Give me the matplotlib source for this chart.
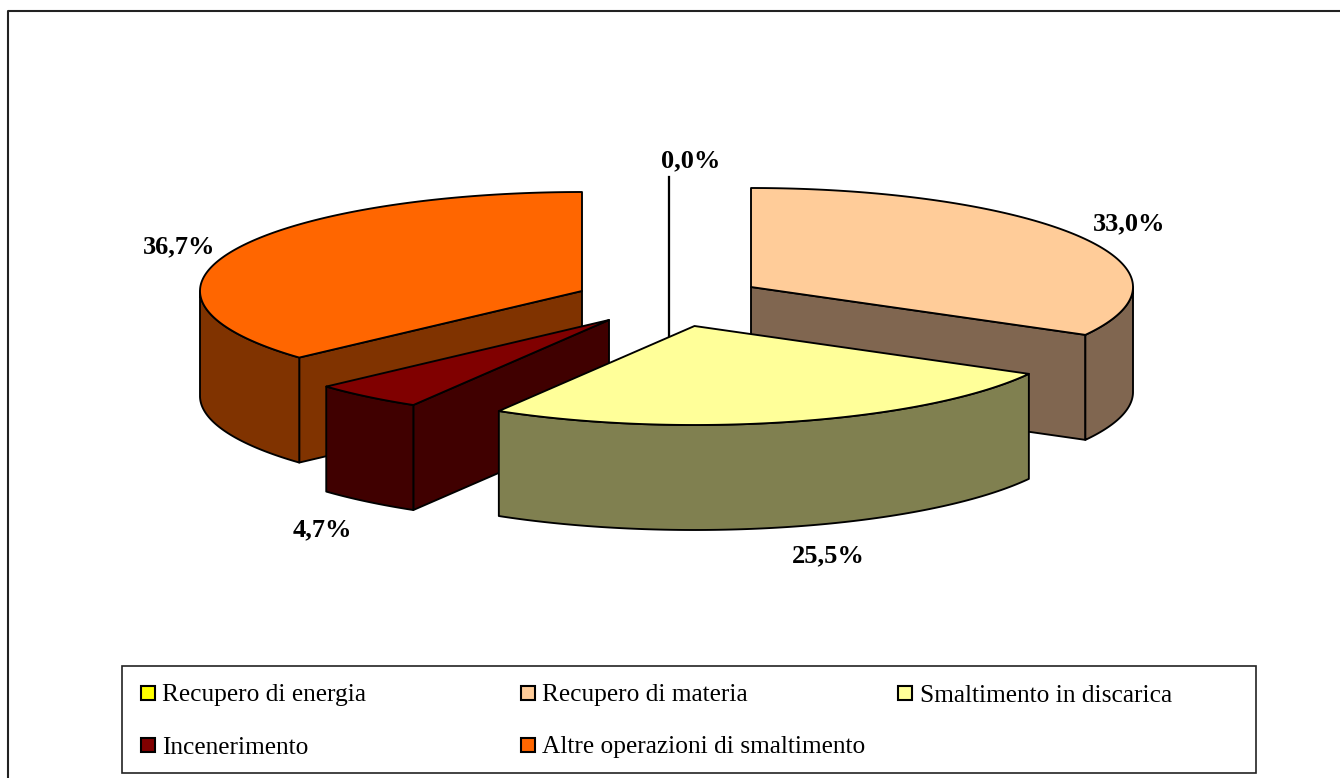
import numpy as np
import matplotlib
matplotlib.use("Agg")
import matplotlib.pyplot as plt
from matplotlib.patches import Polygon, Rectangle

# Data
categories = ["Recupero di energia", "Recupero di materia", "Smaltimento in discarica",
              "Incenerimento", "Altre operazioni di smaltimento"]
values = [0.0, 33.0, 25.5, 4.7, 36.7]
value_labels = ["0,0%", "33,0%", "25,5%", "4,7%", "36,7%"]

# Style / layout
top_colors = ["#FFFF00", "#FFCC99", "#FFFF99", "#800000", "#FF6600"]
side_colors = ["#808000", "#806650", "#808050", "#400000", "#803300"]
apexes = [(669, 276), (751, 287), (694.5, 326), (609, 320), (582, 291)]
label_pos = [(690.5, 160.5), (1129, 223.5), (828, 555.5), (322, 529.5), (179, 246.5)]
draw_order = [1, 4, 3, 0, 2]
RX, RY, DEPTH = 382, 99, 105
EDGE = "black"
LW = 1.35
SERIF = "Liberation Serif"

fig = plt.figure(figsize=(13.4, 7.78), dpi=100)
ax = fig.add_axes([0, 0, 1, 1])
ax.set_xlim(0, 1340)
ax.set_ylim(778, 0)
ax.axis("off")

# chart frame: only left and top edges fall inside the picture
ax.plot([7.5, 7.5, 1340], [778, 11, 11], color="#222222", lw=1.5, zorder=1)


def rim(apex, t):
    t = np.asarray(t)
    return apex[0] + RX * np.sin(t), apex[1] - RY * np.cos(t)


total = sum(values)
ends = np.cumsum(values) / total * 2 * np.pi
starts = np.concatenate([[0], ends[:-1]])
z = 2
for i in draw_order:
    a, t0, t1 = apexes[i], starts[i], ends[i]
    if values[i] == 0:
        x, y = rim(a, t0)
        ax.plot([x, x], [y, a[1] + DEPTH], color=EDGE, lw=LW * 1.2, zorder=z)
        z += 1
        continue
    # radial side faces
    for t, visible in ((t0, np.pi < t0 < 2 * np.pi), (t1, 0 < t1 < np.pi)):
        if visible:
            x, y = rim(a, t)
            ax.add_patch(Polygon([a, (x, y), (x, y + DEPTH), (a[0], a[1] + DEPTH)],
                                 closed=True, fc=side_colors[i], ec=EDGE, lw=LW,
                                 joinstyle="round", zorder=z))
            z += 1
    # outer curved side
    lo, hi = max(t0, np.pi / 2), min(t1, 3 * np.pi / 2)
    if hi > lo:
        t = np.linspace(lo, hi, 120)
        x, y = rim(a, t)
        pts = np.r_[np.c_[x, y], np.c_[x[::-1], y[::-1] + DEPTH]]
        ax.add_patch(Polygon(pts, closed=True, fc=side_colors[i], ec=EDGE, lw=LW,
                             joinstyle="round", zorder=z))
        z += 1
    # top surface
    t = np.linspace(t0, t1, 240)
    x, y = rim(a, t)
    pts = np.r_[[a], np.c_[x, y]]
    ax.add_patch(Polygon(pts, closed=True, fc=top_colors[i], ec=EDGE, lw=LW,
                         joinstyle="round", zorder=z))
    z += 1

for (lx, ly), s in zip(label_pos, value_labels):
    ax.text(lx, ly, s, family=SERIF, weight="bold", fontsize=19, ha="center",
            va="center", color="black", zorder=50)

# legend
ax.add_patch(Rectangle((121.5, 666), 1134.5, 107, fc="white", ec="#222222", lw=1.2, zorder=40))
legend_x = [141, 521, 898, 141, 521]
legend_y = [686, 686, 686, 738, 738]
for c, col, lx, ly in zip(categories, top_colors, legend_x, legend_y):
    ax.add_patch(Rectangle((lx, ly), 14, 14, fc=col, ec="black", lw=1.5, zorder=41))
    ax.text(lx + 21.5, ly + 15.5, c, family=SERIF, fontsize=18.3, ha="left", va="baseline",
            color="black", zorder=41)

fig.savefig("out.png", dpi=100, facecolor="white")
